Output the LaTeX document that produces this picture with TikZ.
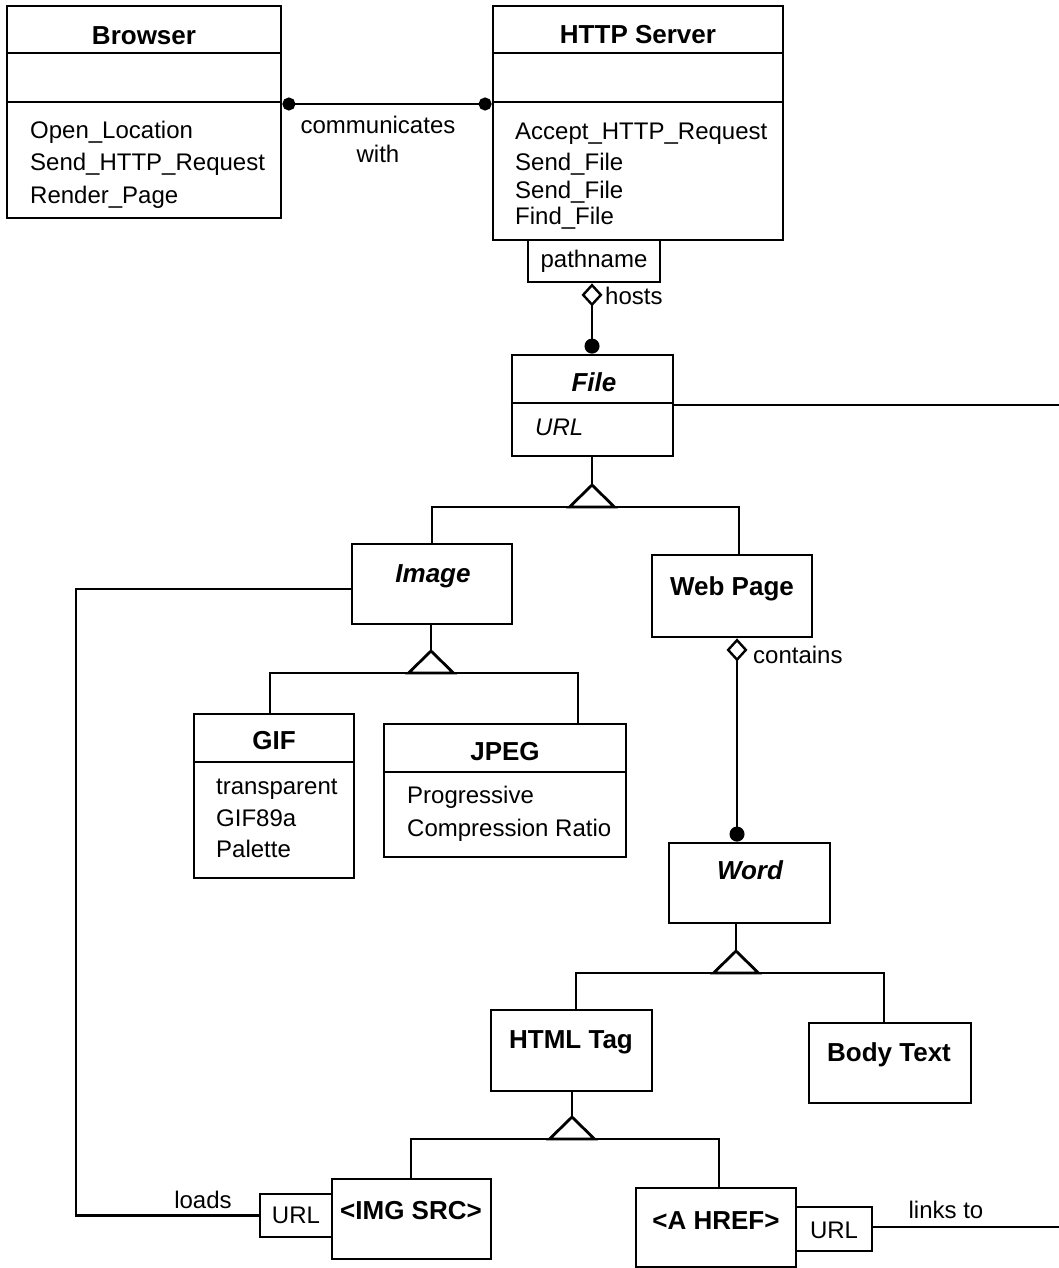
\documentclass[tikz,border=0pt]{standalone}
\usepackage{fontspec}
\setmainfont{Liberation Sans}
\usetikzlibrary{arrows.meta,fit,calc}
\newcommand\txtfont{\fontsize{24pt}{28pt}\selectfont}
\newcommand\hdfont{\fontsize{26pt}{30pt}\selectfont\bfseries}
% open generalization triangle sitting on a base point
\newcommand\gentri[1]{\draw[gentri] ($(#1)+(-22.5,0)$) -- ($(#1)+(0,-22)$) -- ($(#1)+(22.5,0)$) -- cycle;}

\begin{document}
\begin{tikzpicture}[x=1pt,y=-1pt,
  box/.style={draw, line width=2.8pt, inner sep=0pt, fill=white},
  wire/.style={line width=2.8pt},
  hdtext/.style={font=\hdfont, text height=18.6pt, text depth=0pt, inner sep=0pt},
  hditext/.style={font=\hdfont\itshape, text height=18.6pt, text depth=0pt, inner sep=0pt},
  txt/.style={font=\txtfont, text height=17.2pt, text depth=0pt, inner sep=0pt},
  attr/.style={txt, anchor=west},
  gentri/.style={line width=2.8pt, fill=white, line join=miter},
  aggr/.style={line width=2.8pt, {Diamond[open,length=23pt,width=21pt,line width=2.4pt]}-{Circle[length=15pt]}},
  assoc/.style={line width=2.8pt, {Circle[length=13pt]}-{Circle[length=13pt]}},
]
\useasboundingbox (0,0) rectangle (1058,1268);
\fill[white] (0,0) rectangle (1058,1268);

% ---------- Browser ----------
\node[box, fit={(7,6) (281,218)}] (browser) {};
\draw[wire] (browser.west |- 0,53) -- (browser.east |- 0,53);
\draw[wire] (browser.west |- 0,102) -- (browser.east |- 0,102);
\node[hdtext] (browser-name) at (144,35) {Browser};
\node[attr] (browser-op1) at (30,130) {Open\_Location};
\node[attr] (browser-op2) at (30,162) {Send\_HTTP\_Request};
\node[attr] (browser-op3) at (30,195) {Render\_Page};

% ---------- HTTP Server ----------
\node[box, fit={(493,6) (783,240)}] (server) {};
\draw[wire] (server.west |- 0,53) -- (server.east |- 0,53);
\draw[wire] (server.west |- 0,102) -- (server.east |- 0,102);
\node[hdtext] (server-name) at (638,34) {HTTP Server};
\node[attr] (server-op1) at (515,131) {Accept\_HTTP\_Request};
\node[attr] (server-op2) at (515,162) {Send\_File};
\node[attr] (server-op3) at (515,190) {Send\_File};
\node[attr] (server-op4) at (515,216) {Find\_File};

% qualifier
\node[box, fit={(528,240) (660,282)}] (pathname) {};
\node[txt] (pathname-text) at (594,259) {pathname};

% ---------- File ----------
\node[box, fit={(512,355) (673,456)}] (file) {};
\draw[wire] (file.west |- 0,403) -- (file.east |- 0,403);
\node[hditext] (file-name) at (594,382) {File};
\node[attr, font=\txtfont\itshape] (file-url) at (535,427) {URL};

% ---------- Image / Web Page ----------
\node[box, fit={(352,544) (512,624)}] (image) {};
\node[hditext] (image-name) at (433,573) {Image};
\node[box, fit={(652,555) (812,637)}] (webpage) {};
\node[hdtext] (webpage-name) at (732,586) {Web Page};

% ---------- GIF / JPEG ----------
\node[box, fit={(194,714) (354,878)}] (gif) {};
\draw[wire] (gif.west |- 0,762) -- (gif.east |- 0,762);
\node[hdtext] (gif-name) at (274,740) {GIF};
\node[attr] (gif-a1) at (216,786) {transparent};
\node[attr] (gif-a2) at (216,818) {GIF89a};
\node[attr] (gif-a3) at (216,849) {Palette};

\node[box, fit={(384,724) (626,857)}] (jpeg) {};
\draw[wire] (jpeg.west |- 0,772) -- (jpeg.east |- 0,772);
\node[hdtext] (jpeg-name) at (505,751) {JPEG};
\node[attr] (jpeg-a1) at (407,795) {Progressive};
\node[attr] (jpeg-a2) at (407,828) {Compression Ratio};

% ---------- Word hierarchy ----------
\node[box, fit={(669,843) (830,923)}] (word) {};
\node[hditext] (word-name) at (750,870) {Word};
\node[box, fit={(491,1010) (652,1091)}] (htmltag) {};
\node[hdtext] (htmltag-name) at (571,1039) {HTML Tag};
\node[box, fit={(809,1023) (971,1103)}] (bodytext) {};
\node[hdtext] (bodytext-name) at (889,1052) {Body Text};

\node[box, fit={(332,1179) (491,1259)}] (imgsrc) {};
\node[hdtext] (imgsrc-name) at (411,1210) {<IMG SRC>};
\node[box, fit={(260,1194) (332,1237)}] (url1) {};
\node[txt] (url1-text) at (296,1215) {URL};

\node[box, fit={(636,1188) (796,1267)}] (ahref) {};
\node[hdtext] (ahref-name) at (716,1220) {<A HREF>};
\node[box, fit={(796,1207) (872,1251)}] (url2) {};
\node[txt] (url2-text) at (834,1230) {URL};

% ---------- associations ----------
\draw[assoc] (browser.east |- 0,104) -- (server.west |- 0,104);
\node[txt] (comm1) at (378,125) {communicates};
\node[txt] (comm2) at (378,154) {with};

\draw[aggr] (pathname.south -| 592,0) -- (file.north -| 592,0);
\node[attr] (hosts) at (605,296) {hosts};

\draw[aggr] (webpage.south -| 737,0) -- (word.north -| 737,0);
\node[attr] (contains) at (753,655) {contains};

\coordinate (fileout) at (1062,405);
\draw[wire] (file.east |- 0,405) -- (fileout);

\draw[wire] (image.west |- 0,589) -- (76,589) |- (url1.west);
\node[txt] (loads) at (203,1200) {loads};

\coordinate (linkout) at (1062,1227);
\draw[wire] (url2.east |- 0,1227) -- (linkout);
\node[txt] (linksto) at (946,1210) {links to};

% ---------- generalizations ----------
\coordinate (g1) at (592,507);
\draw[wire] (file.south -| 592,0) -- ($(g1)+(0,-22)$);
\draw[wire] (image.north) |- (g1) -| (webpage.north -| 739,0);
\gentri{g1}

\coordinate (g2) at (431,673);
\draw[wire] (image.south -| 431,0) -- ($(g2)+(0,-22)$);
\draw[wire] (gif.north -| 270,0) |- (g2) -| (jpeg.north -| 578,0);
\gentri{g2}

\coordinate (g3) at (736,973);
\draw[wire] (word.south -| 736,0) -- ($(g3)+(0,-22)$);
\draw[wire] (htmltag.north -| 576,0) |- (g3) -| (bodytext.north -| 884,0);
\gentri{g3}

\coordinate (g4) at (572,1139);
\draw[wire] (htmltag.south -| 572,0) -- ($(g4)+(0,-22)$);
\draw[wire] (imgsrc.north -| 411,0) |- (g4) -| (ahref.north -| 719,0);
\gentri{g4}
\end{tikzpicture}
\end{document}
